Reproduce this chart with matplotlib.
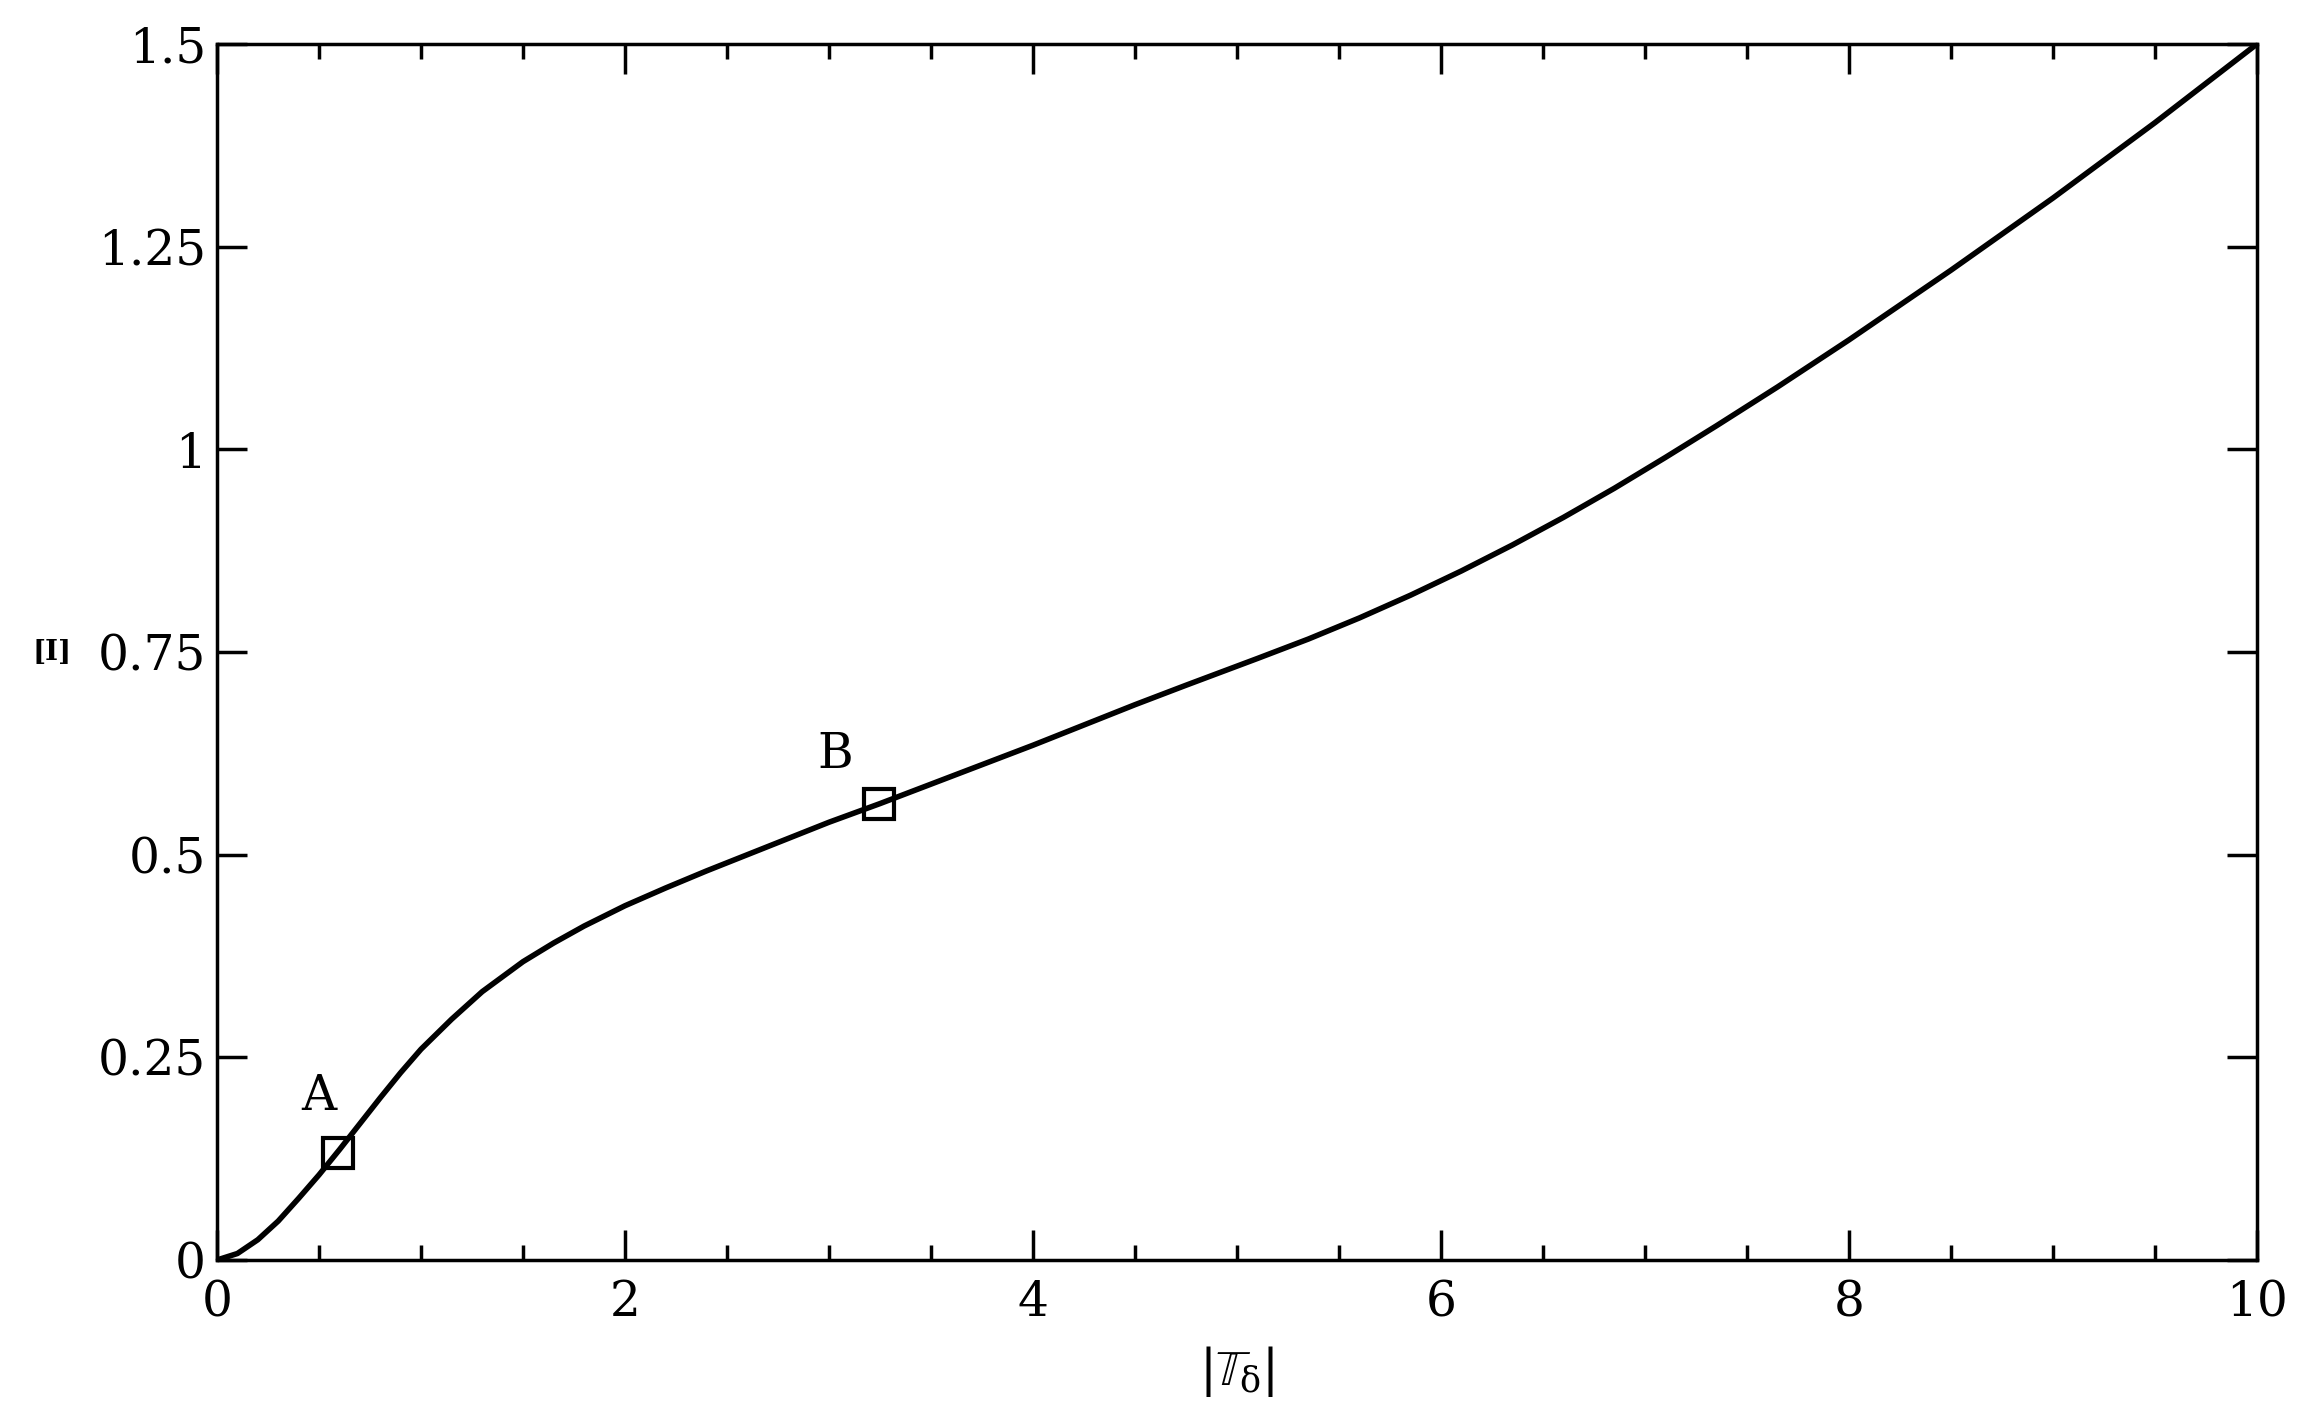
import matplotlib
matplotlib.use("Agg")
import matplotlib.pyplot as plt
from matplotlib.ticker import MultipleLocator, FixedLocator

# ---- data ----
t_abs = [0.0, 0.1, 0.2, 0.3, 0.4, 0.5, 0.6, 0.7, 0.8, 0.9, 1.0, 1.15, 1.3,
         1.5, 1.65, 1.8, 2.0, 2.2, 2.4, 2.6, 2.8, 3.0, 3.25, 3.5, 3.75, 4.0,
         4.25, 4.5, 4.75, 5.1, 5.35, 5.6, 5.85, 6.1, 6.35, 6.6, 6.85, 7.1,
         7.35, 7.65, 8.0, 8.5, 9.0, 9.5, 10.0]
xi = [0.0, 0.008, 0.025, 0.048, 0.076, 0.105, 0.136, 0.168, 0.200, 0.231,
      0.260, 0.297, 0.331, 0.368, 0.391, 0.412, 0.437, 0.459, 0.480, 0.500,
      0.520, 0.540, 0.563, 0.587, 0.611, 0.635, 0.660, 0.685, 0.709, 0.742,
      0.766, 0.792, 0.820, 0.850, 0.882, 0.916, 0.952, 0.990, 1.029, 1.077,
      1.135, 1.221, 1.310, 1.403, 1.500]

point_names = ["A", "B"]
point_x = [0.593, 3.245]
point_y = [0.132, 0.562]
label_x = [0.50, 3.03]
label_y = [0.202, 0.623]

xticks = [0, 2, 4, 6, 8, 10]
xtick_labels = ["0", "2", "4", "6", "8", "10"]
yticks = [0, 0.25, 0.5, 0.75, 1.0, 1.25, 1.5]
ytick_labels = ["0", "0.25", "0.5", "0.75", "1", "1.25", "1.5"]

plt.rcParams['font.family'] = ['DejaVu Serif']
plt.rcParams['mathtext.fontset'] = 'dejavuserif'

fig = plt.figure(figsize=(22.98, 14.10), dpi=100)
ax = fig.add_axes([217/2298, 1 - 1260/1410, (2257-217)/2298, (1260-44)/1410])

ax.plot(t_abs, xi, color='black', lw=4.0, solid_capstyle='butt',
        solid_joinstyle='round')
ax.plot(point_x, point_y, linestyle='none', marker='s', markersize=21,
        markerfacecolor='none', markeredgecolor='black', markeredgewidth=3.0)
for n, lx, ly in zip(point_names, label_x, label_y):
    ax.text(lx, ly, n, ha='center', va='center', fontsize=35)

ax.set_xlim(0, 10)
ax.set_ylim(0, 1.5)
ax.xaxis.set_major_locator(FixedLocator(xticks))
ax.set_xticklabels(xtick_labels)
ax.xaxis.set_minor_locator(MultipleLocator(0.5))
ax.yaxis.set_major_locator(FixedLocator(yticks))
ax.set_yticklabels(ytick_labels)

for s in ax.spines.values():
    s.set_linewidth(2.5)

ax.tick_params(axis='both', which='major', direction='in', length=21.5, width=2.5,
               top=True, right=True, labelsize=35, colors='black')
ax.tick_params(axis='x', which='minor', direction='in', length=10.8, width=2.5,
               top=True, bottom=True)
ax.tick_params(axis='x', which='major', pad=14)
ax.tick_params(axis='y', which='major', pad=8)

ax.set_xlabel(r'$|\mathbb{T}_{\mathrm{\delta}}|$', fontsize=36)
ax.xaxis.set_label_coords(0.5, -0.092)
ax.xaxis.label.set_va('center')

ax.set_ylabel('[I]', fontsize=20, fontweight='bold', rotation=0)
ax.yaxis.set_label_coords(-0.081, 0.5)
ax.yaxis.label.set_va('center')
ax.yaxis.label.set_ha('center')

fig.savefig('out.png', dpi=100, facecolor='white')
